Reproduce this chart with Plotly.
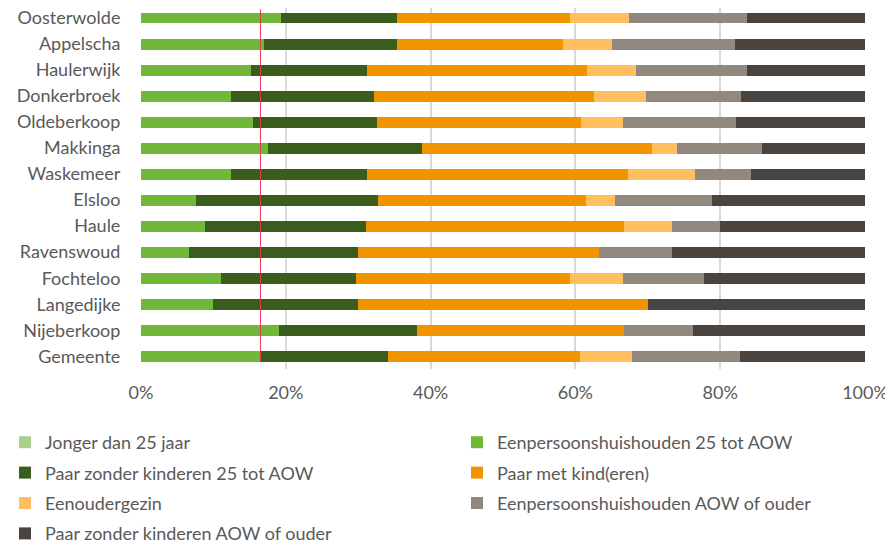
import plotly.graph_objects as go

categories = ["Oosterwolde", "Appelscha", "Haulerwijk", "Donkerbroek", "Oldeberkoop",
              "Makkinga", "Waskemeer", "Elsloo", "Haule", "Ravenswoud", "Fochteloo",
              "Langedijke", "Nijeberkoop", "Gemeente"]

jonger_25 = [0, 0, 0, 0, 0, 0, 0, 0, 0, 0, 0, 0, 0, 0]
eenpersoons_25_aow = [19.4, 17.0, 15.2, 12.4, 15.5, 17.6, 12.4, 7.6, 8.9, 6.6, 11.1, 9.9, 19.0, 16.5]
paar_zonder_25_aow = [16.0, 18.4, 16.0, 19.8, 17.1, 21.2, 18.8, 25.1, 22.2, 23.4, 18.6, 20.1, 19.1, 17.6]
paar_met_kind = [23.8, 22.9, 30.4, 30.4, 28.2, 31.8, 36.0, 28.8, 35.6, 33.3, 29.5, 40.0, 28.6, 26.6]
eenoudergezin = [8.2, 6.8, 6.8, 7.1, 5.8, 3.5, 9.3, 3.9, 6.6, 0, 7.4, 0, 0, 7.1]
eenpersoons_aow = [16.3, 17.0, 15.3, 13.2, 15.6, 11.7, 7.8, 13.4, 6.7, 10.0, 11.2, 0, 9.5, 14.9]
paar_zonder_aow = [16.3, 17.9, 16.3, 17.1, 17.8, 14.2, 15.7, 21.2, 20.0, 26.7, 22.2, 30.0, 23.8, 17.3]

tick_vals = [0, 20, 40, 60, 80, 100]
tick_text = ["0%", "20%", "40%", "60%", "80%", "100%"]

series = [
    ("Jonger dan 25 jaar", jonger_25, "#A9D18E", "legend"),
    ("Eenpersoonshuishouden 25 tot AOW", eenpersoons_25_aow, "#72B838", "legend2"),
    ("Paar zonder kinderen 25 tot AOW", paar_zonder_25_aow, "#3A5C1C", "legend"),
    ("Paar met kind(eren)", paar_met_kind, "#F29300", "legend2"),
    ("Eenoudergezin", eenoudergezin, "#FFBF5F", "legend"),
    ("Eenpersoonshuishouden AOW of ouder", eenpersoons_aow, "#918880", "legend2"),
    ("Paar zonder kinderen AOW of ouder", paar_zonder_aow, "#4A4441", "legend"),
]

FONT = "Lato"
TXT = "#595959"

fig = go.Figure()
for name, vals, col, leg in series:
    fig.add_trace(go.Bar(
        y=categories, x=vals, name=name, orientation="h",
        marker=dict(color=col, line=dict(width=0)),
        legend=leg, legendgroup=name,
    ))

# reference line at the municipality value
gem_val = eenpersoons_25_aow[categories.index("Gemeente")]
fig.add_shape(type="line", xref="x", yref="y", x0=gem_val, x1=gem_val,
              y0=-0.335, y1=len(categories) - 1 + 0.21,
              line=dict(color="#E8384F", width=1), layer="above")

# the page adds an 8px body margin, so the figure is drawn 8px smaller
W, H = 885, 538
PL, PR, PT, PB = 133, 857, 0, 361
PW, PH = PR - PL, PB - PT
LEG_Y = (PB - 416) / PH

fig.update_layout(
    width=W, height=H,
    margin=dict(l=PL, r=W - PR, t=PT, b=H - PB, autoexpand=False),
    paper_bgcolor="white", plot_bgcolor="white",
    barmode="stack", barnorm="percent", bargap=0.58,
    font=dict(family=FONT, size=18, color=TXT),
    showlegend=True,
    legend=dict(orientation="v", x=(-3 - PL) / PW, xanchor="left",
                y=LEG_Y, yanchor="top", traceorder="grouped",
                tracegroupgap=4, font=dict(family=FONT, size=18, color=TXT),
                bgcolor="rgba(0,0,0,0)"),
    legend2=dict(orientation="v", x=(449 - PL) / PW, xanchor="left",
                 y=LEG_Y, yanchor="top", traceorder="grouped",
                 tracegroupgap=4, font=dict(family=FONT, size=18, color=TXT),
                 bgcolor="rgba(0,0,0,0)"),
)

fig.update_xaxes(range=[0, 100], tickvals=tick_vals, ticktext=tick_text,
                 showgrid=True, gridcolor="#D9D9D9", gridwidth=1.5,
                 zeroline=False, showline=False, automargin=False,
                 ticks="outside", ticklen=7, tickcolor="rgba(0,0,0,0)",
                 tickfont=dict(family=FONT, size=18, color=TXT), fixedrange=True)
fig.update_yaxes(categoryorder="array", categoryarray=categories,
                 range=[13.49, -0.385],
                 showgrid=False, zeroline=False, showline=False, automargin=False,
                 ticks="outside", ticklen=16, tickcolor="rgba(0,0,0,0)",
                 tickfont=dict(family=FONT, size=18, color=TXT), fixedrange=True)

fig.write_html("out.html")
